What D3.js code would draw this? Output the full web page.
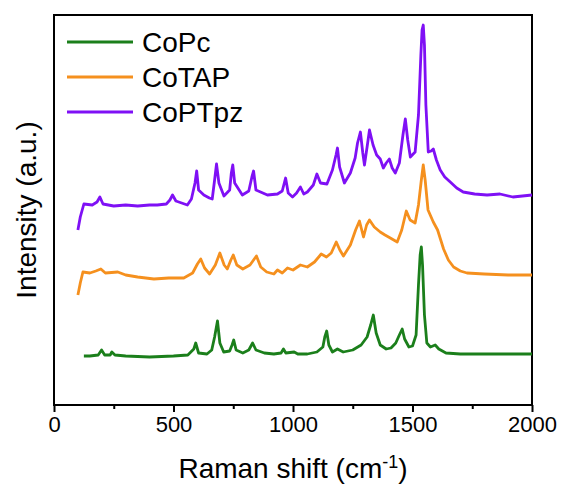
<!DOCTYPE html>
<html>
<head>
<meta charset="utf-8">
<script src="https://cdn.jsdelivr.net/npm/d3@7"></script>
<style>
  body { margin: 0; background: #fff; }
  text { font-family: "Liberation Sans", Arial, sans-serif; fill: #000; }
</style>
</head>
<body>
<div id="chart"></div>
<script>
// Raman spectra, [shift (cm-1), intensity (a.u., offset stacked)]
const coPc = [
  [125, 49], [150, 49], [185, 50], [199, 55], [212, 50], [235, 50], [242, 53], [255, 50],
  [300, 49], [400, 48], [500, 49], [560, 50], [585, 56], [593, 62], [605, 52], [640, 51],
  [660, 55], [672, 68], [684, 84], [694, 62], [710, 53], [735, 54], [745, 60], [752, 65],
  [762, 55], [790, 52], [815, 55], [831, 62], [845, 55], [880, 52], [920, 51], [950, 52],
  [960, 56], [970, 52], [1005, 53], [1020, 51], [1060, 51], [1100, 53], [1125, 58],
  [1133, 68], [1141, 74], [1150, 60], [1165, 53], [1186, 56], [1210, 53], [1250, 55],
  [1285, 60], [1310, 68], [1325, 80], [1336, 90], [1348, 72], [1365, 60], [1390, 56],
  [1410, 57], [1430, 62], [1445, 70], [1457, 76], [1467, 66], [1485, 58], [1500, 59],
  [1515, 70], [1525, 120], [1532, 150], [1537, 158], [1542, 140], [1550, 90], [1560, 62],
  [1575, 58], [1595, 60], [1610, 56], [1640, 52], [1700, 51], [1800, 51], [1900, 51], [2000, 51]
];

const coTAP = [
  [100, 110], [110, 122], [121, 133], [150, 132], [175, 134], [196, 136], [215, 132],
  [267, 133], [300, 130], [350, 128], [418, 126], [480, 127], [543, 127], [580, 132],
  [600, 141], [614, 146], [630, 137], [651, 131], [675, 140], [694, 152], [712, 140],
  [725, 136], [740, 145], [750, 150], [765, 140], [790, 136], [820, 140], [847, 149],
  [865, 138], [890, 133], [920, 131], [935, 135], [955, 132], [977, 137], [1000, 135],
  [1031, 140], [1060, 138], [1090, 143], [1118, 151], [1140, 148], [1160, 152], [1181, 163],
  [1196, 155], [1211, 149], [1240, 160], [1262, 175], [1278, 184], [1295, 168], [1308, 180],
  [1320, 185], [1340, 178], [1365, 173], [1385, 170], [1407, 167], [1436, 163], [1455, 175],
  [1474, 194], [1490, 185], [1511, 182], [1525, 200], [1537, 225], [1545, 240], [1553, 225],
  [1565, 195], [1587, 183], [1605, 175], [1630, 156], [1650, 145], [1672, 138], [1700, 134],
  [1728, 132], [1800, 131], [1900, 130], [2000, 130]
];

const coPTpz = [
  [100, 175], [110, 188], [125, 201], [160, 200], [180, 203], [192, 208], [205, 201],
  [250, 199], [300, 200], [350, 199], [400, 200], [432, 200], [470, 201], [485, 205],
  [496, 210], [510, 204], [558, 200], [575, 206], [590, 222], [597, 234], [605, 215],
  [627, 210], [650, 207], [662, 206], [672, 225], [680, 241], [690, 222], [711, 209],
  [735, 215], [742, 232], [748, 240], [756, 222], [788, 210], [815, 214], [828, 228],
  [835, 234], [845, 215], [893, 210], [935, 211], [955, 214], [969, 227], [980, 212],
  [998, 208], [1015, 212], [1031, 218], [1045, 211], [1060, 213], [1085, 220], [1100, 231],
  [1115, 222], [1142, 221], [1165, 235], [1180, 250], [1186, 257], [1195, 238], [1215, 222],
  [1240, 232], [1260, 247], [1270, 262], [1282, 273], [1292, 252], [1299, 240], [1310, 258],
  [1320, 275], [1335, 260], [1350, 250], [1365, 246], [1378, 237], [1390, 242], [1403, 246],
  [1415, 237], [1428, 232], [1445, 242], [1460, 270], [1470, 286], [1480, 265], [1491, 248],
  [1511, 253], [1525, 290], [1535, 350], [1540, 375], [1545, 380], [1550, 360], [1556, 300],
  [1566, 253], [1578, 254], [1587, 256], [1600, 245], [1616, 235], [1635, 228], [1658, 223],
  [1685, 217], [1712, 213], [1760, 211], [1812, 210], [1866, 211], [1920, 208], [2000, 210]
];

const seriesNames = ["CoPc", "CoTAP", "CoPTpz"];
const seriesColors = ["#1b7f1b", "#f5901e", "#7f10f5"];
const majorTicks = [0, 500, 1000, 1500, 2000];
const minorTicks = [250, 750, 1250, 1750];

const width = 562;
const height = 486;
const margin = { top: 15, right: 30, bottom: 81, left: 54 };

const svg = d3.select("#chart")
  .append("svg")
  .attr("width", width)
  .attr("height", height);

const x = d3.scaleLinear()
  .domain([0, 2000])
  .range([margin.left, width - margin.right]);

const y = d3.scaleLinear()
  .domain([0, 390])
  .range([height - margin.bottom, margin.top]);

// minor ticks first, then major ticks with labels
svg.append("g")
  .attr("transform", `translate(0,${height - margin.bottom})`)
  .call(d3.axisBottom(x).tickValues(minorTicks).tickSize(4).tickFormat(""))
  .call(g => g.select(".domain").remove())
  .call(g => g.selectAll("line").attr("stroke-width", 2));

svg.append("g")
  .attr("transform", `translate(0,${height - margin.bottom})`)
  .call(d3.axisBottom(x).tickValues(majorTicks).tickSize(7).tickPadding(4).tickFormat(d3.format("d")))
  .call(g => g.select(".domain").remove())
  .call(g => g.selectAll("line").attr("stroke-width", 2))
  .call(g => g.selectAll("text")
    .attr("font-size", 22)
    .style("font-family", "'Liberation Sans', Arial, sans-serif"));

// frame
svg.append("rect")
  .attr("x", x(0))
  .attr("y", margin.top)
  .attr("width", x(2000) - x(0))
  .attr("height", height - margin.bottom - margin.top)
  .attr("fill", "none")
  .attr("stroke", "#000")
  .attr("stroke-width", 2);

const line = d3.line()
  .x(d => x(d[0]))
  .y(d => y(d[1]));

[coPc, coTAP, coPTpz].forEach((data, i) => {
  svg.append("path")
    .datum(data)
    .attr("fill", "none")
    .attr("stroke", seriesColors[i])
    .attr("stroke-width", 2.8)
    .attr("stroke-linejoin", "round")
    .attr("d", line);
});

// legend
const legend = svg.append("g");
seriesNames.forEach((name, i) => {
  const ly = 42 + i * 35;
  legend.append("line")
    .attr("x1", 67).attr("x2", 133)
    .attr("y1", ly).attr("y2", ly)
    .attr("stroke", seriesColors[i])
    .attr("stroke-width", 3);
  legend.append("text")
    .attr("x", 142)
    .attr("y", ly)
    .attr("dy", "0.35em")
    .attr("font-size", 28)
    .text(name);
});

// axis titles
const xTitle = svg.append("text")
  .attr("x", (x(0) + x(2000)) / 2)
  .attr("y", 478)
  .attr("text-anchor", "middle")
  .attr("font-size", 28);
xTitle.append("tspan").text("Raman shift (cm");
xTitle.append("tspan").attr("dy", -10).attr("font-size", 18).text("-1");
xTitle.append("tspan").attr("dy", 10).text(")");

svg.append("text")
  .attr("transform", `translate(36,${(margin.top + height - margin.bottom) / 2}) rotate(-90)`)
  .attr("text-anchor", "middle")
  .attr("font-size", 28)
  .text("Intensity (a.u.)");
</script>
</body>
</html>
